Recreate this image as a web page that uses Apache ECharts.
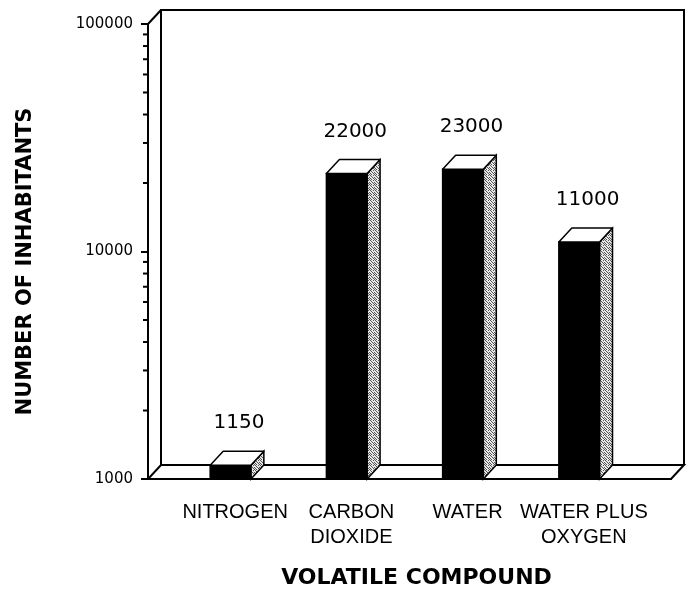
<!DOCTYPE html>
<html>
<head>
<meta charset="UTF-8">
<title>Volatile compound</title>
<script src="https://cdn.jsdelivr.net/npm/echarts@6/dist/echarts.min.js"></script>
<style>
  html, body { margin: 0; padding: 0; background: #fff; }
  #chart { width: 694px; height: 594px; }
</style>
</head>
<body>
<div id="chart"></div>
<script>
// values
var categories = ['NITROGEN', 'CARBON\nDIOXIDE', 'WATER', 'WATER PLUS\nOXYGEN'];
var inhabitants = [1150, 22000, 23000, 11000];
var yTicks = [1000, 10000, 100000];
var yMinorTicks = [2000, 3000, 4000, 5000, 6000, 7000, 8000, 9000,
                   20000, 30000, 40000, 50000, 60000, 70000, 80000, 90000];

// depth of the fake 3d
var DX = 13, DY = -14;

// axis has a gap slot before/after every bar
var slots = [''];
categories.forEach(function (c) { slots.push(c); slots.push(''); });
var barData = inhabitants.map(function (v, i) { return [2 * i + 1, v]; });

// stippled grey for the bar sides
var pat = document.createElement('canvas');
pat.width = 5; pat.height = 5;
var pc = pat.getContext('2d');
pc.fillStyle = '#e8e8e8'; pc.fillRect(0, 0, 5, 5);
pc.fillStyle = '#555';
[[0, 0], [3, 0], [1, 1], [4, 2], [2, 2], [0, 3], [3, 3], [1, 4], [4, 4]].forEach(function (d) {
    pc.fillRect(d[0], d[1], 1, 1);
});
var sideFill = { image: pat, repeat: 'repeat' };

function renderFrame(params, api) {
    var cs = params.coordSys;
    var L = cs.x, R = cs.x + cs.width, T = cs.y, B = cs.y + cs.height;
    var st = { stroke: '#000', lineWidth: 2, fill: null };
    return {
        type: 'group',
        children: [
            { type: 'polygon', shape: { points: [[L, B], [R, B], [R + DX, B + DY], [L + DX, B + DY]] },
              style: { fill: '#fff', stroke: '#000', lineWidth: 2 } },
            { type: 'polyline', shape: { points: [[L + DX, B + DY], [L + DX, T + DY], [R + DX, T + DY], [R + DX, B + DY]] }, style: st },
            { type: 'polyline', shape: { points: [[L, T], [L + DX, T + DY]] }, style: st }
        ]
    };
}

function renderMinorTick(params, api) {
    var p = api.coord([0, api.value(1)]);
    var x = params.coordSys.x;
    return { type: 'line', shape: { x1: x - 5, y1: p[1], x2: x, y2: p[1] },
             style: { stroke: '#000', lineWidth: 2 } };
}

function renderBar(params, api) {
    var top = api.coord([api.value(0), api.value(1)]);
    var base = api.coord([api.value(0), yTicks[0]]);
    var bw = api.size([1, 0])[0];
    var x0 = top[0] - 0.43 * bw, x1 = x0 + 0.7 * bw;
    var y0 = top[1], y1 = base[1];
    return {
        type: 'group',
        children: [
            { type: 'polygon', shape: { points: [[x1, y0], [x1 + DX, y0 + DY], [x1 + DX, y1 + DY], [x1, y1]] },
              style: { fill: sideFill, stroke: '#000', lineWidth: 1.5 } },
            { type: 'rect', shape: { x: x0, y: y0, width: x1 - x0, height: y1 - y0 },
              style: { fill: '#000', stroke: '#000', lineWidth: 1.5 } },
            { type: 'polygon', shape: { points: [[x0, y0], [x1, y0], [x1 + DX, y0 + DY], [x0 + DX, y0 + DY]] },
              style: { fill: '#fff', stroke: '#000', lineWidth: 1.5, lineJoin: 'round' } },
            { type: 'text', x: (x0 + x1 + DX) / 2 + 2, y: y0 + DY - 28,
              style: { text: String(api.value(1)), fill: '#000', fontSize: 20,
                       fontFamily: 'DejaVu Sans', align: 'center', verticalAlign: 'middle' } }
        ]
    };
}

var myChart = echarts.init(document.getElementById('chart'));
var option = {
    backgroundColor: '#fff',
    animation: false,
    grid: { left: 148, right: 23, top: 24, bottom: 114 },
    xAxis: {
        type: 'category',
        data: slots,
        boundaryGap: true,
        name: 'VOLATILE COMPOUND',
        nameLocation: 'middle',
        nameGap: 88,
        nameTextStyle: { color: '#000', fontFamily: 'DejaVu Sans', fontWeight: 'bold', fontSize: 22,
                         padding: [0, 0, 0, 14] },
        axisLine: { lineStyle: { color: '#000', width: 2 } },
        axisTick: { interval: 0, length: 5, lineStyle: { color: '#000', width: 2 } },
        axisLabel: { interval: 0, color: '#000', fontFamily: 'Liberation Sans', fontSize: 20,
                     lineHeight: 25, margin: 21 },
        splitLine: { show: false }
    },
    yAxis: {
        type: 'log',
        logBase: 10,
        min: yTicks[0],
        max: yTicks[yTicks.length - 1],
        name: 'NUMBER OF INHABITANTS',
        nameLocation: 'middle',
        nameRotate: 90,
        nameGap: 112,
        nameTextStyle: { color: '#000', fontFamily: 'DejaVu Sans', fontWeight: 'bold', fontSize: 21,
                         padding: [0, 20, 0, 0] },
        axisLine: { show: true, lineStyle: { color: '#000', width: 2 } },
        axisTick: { show: true, length: 7, lineStyle: { color: '#000', width: 2 } },
        axisLabel: { color: '#000', fontFamily: 'DejaVu Sans', fontSize: 15, margin: 15,
                     formatter: function (v) { return String(Math.round(v)); } },
        splitLine: { show: false }
    },
    series: [
        { type: 'custom', renderItem: renderFrame, data: [[0, yTicks[0]]], z: 1, silent: true },
        { type: 'custom', renderItem: renderMinorTick,
          data: yMinorTicks.map(function (v) { return [0, v]; }), z: 1, silent: true },
        { type: 'custom', renderItem: renderBar, data: barData, z: 3 }
    ]
};
myChart.setOption(option);
</script>
</body>
</html>
